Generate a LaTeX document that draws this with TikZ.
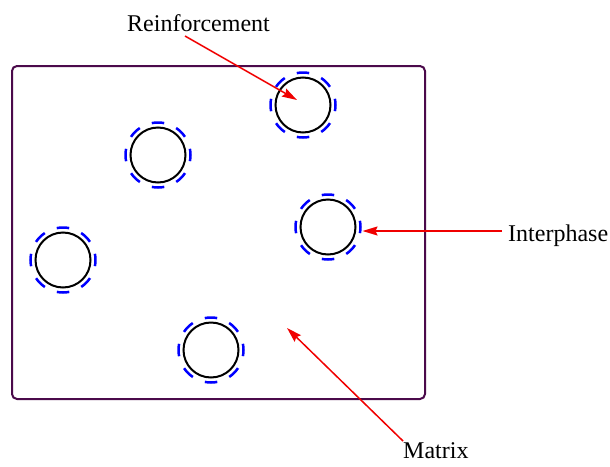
\documentclass[tikz,border=0pt]{standalone}
\usepackage{fontspec}
\setmainfont{Liberation Serif}
\usetikzlibrary{arrows.meta,calc}
\definecolor{framecol}{RGB}{75,10,75}
\definecolor{arrowred}{RGB}{240,0,0}
\begin{document}
\begin{tikzpicture}[x=1pt,y=-1pt,
  matrixbox/.style={draw=framecol,line width=2pt,rounded corners=5pt},
  fibre/.style={circle,draw=black,line width=2pt,minimum size=55pt,inner sep=0pt},
  interbox/.style={circle,draw=blue,line width=2.5pt,minimum size=65pt,inner sep=0pt,
    dash pattern=on 12.5pt off 13.03pt,dash phase=6.25pt,outer sep=2pt},
  lbl/.style={inner sep=0pt,font=\fontsize{24}{28}\selectfont},
  pointer/.style={draw=arrowred,line width=1.5pt,-{Stealth[length=15pt,width=9pt,inset=2pt]}}
]
\useasboundingbox (0,0) rectangle (610,466);
\draw[matrixbox] (12,66) rectangle (425,399);

\foreach \n/\x/\y in {1/303/105,2/158/155,3/63/260,4/328/227,5/211/350}{
  \node[interbox] (d\n) at (\x,\y) {};
  \node[fibre] (c\n) at (\x,\y) {};
}

\node[lbl,anchor=base] (lreinf) at (198.5,31.5) {Reinforcement};
\node[lbl,anchor=base west] (linter) at (508,241.5) {Interphase};
\node[lbl,anchor=base west] (lmatrix) at (403,458) {Matrix};

\coordinate (sreinf) at (185,36);
\coordinate (treinf) at (297,100);
\coordinate (sinter) at (502,231);
\coordinate (smatrix) at (403,441);
\coordinate (tmatrix) at (287,328);

\draw[pointer] (sreinf) -- (treinf);
\draw[pointer] (sinter) -- (sinter -| d4.east);
\draw[pointer] (smatrix) -- (tmatrix);
\end{tikzpicture}
\end{document}
